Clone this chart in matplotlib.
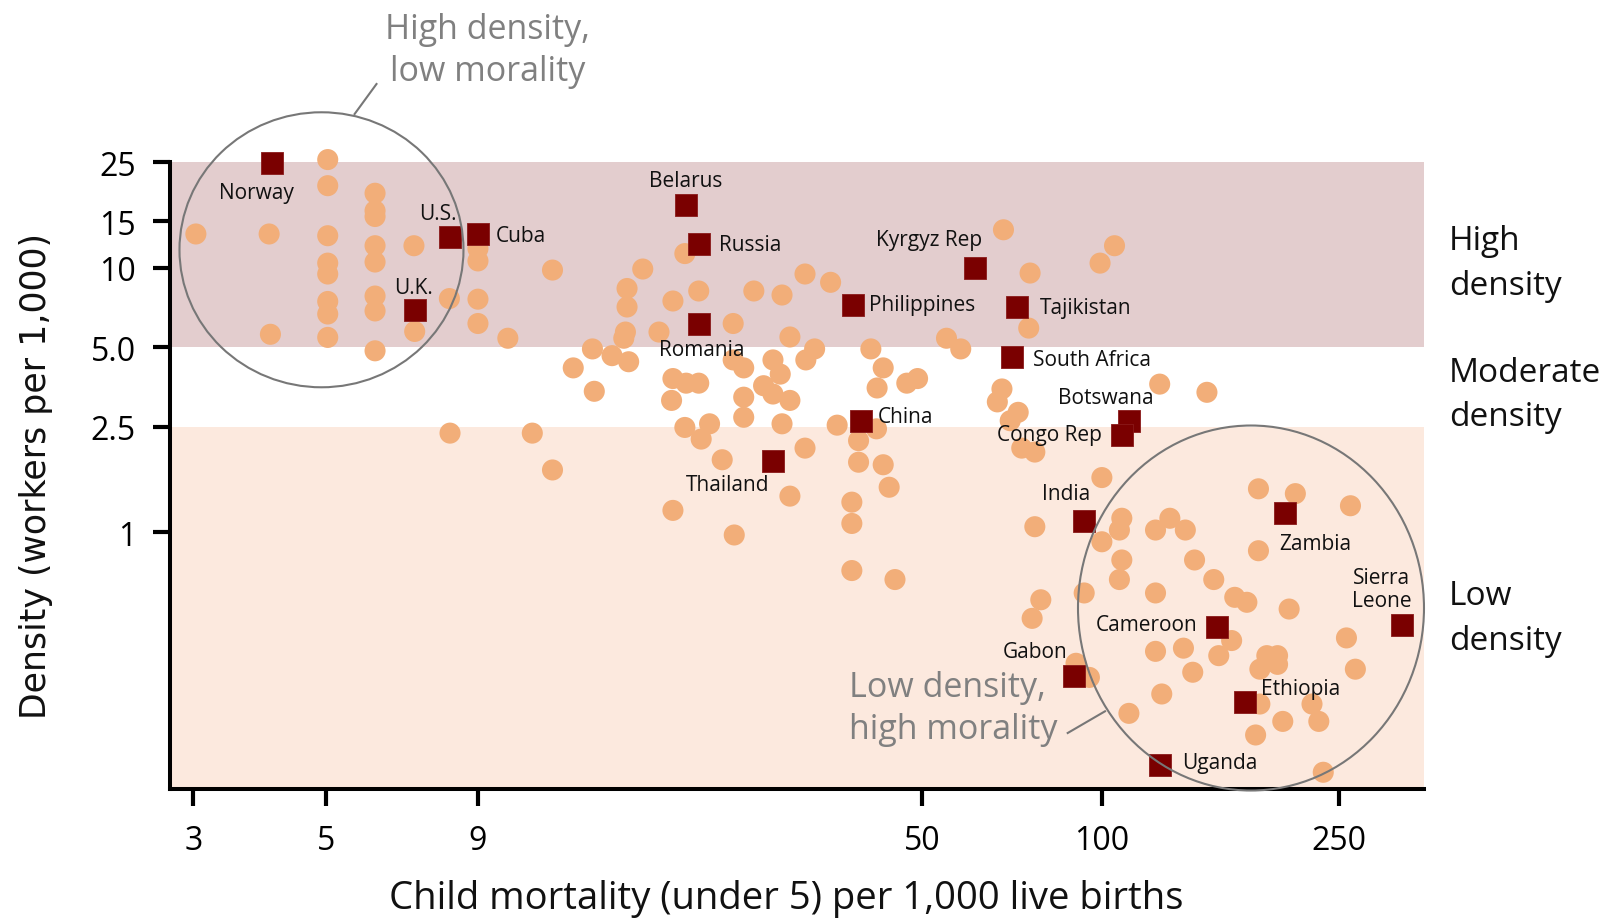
import matplotlib
matplotlib.use("Agg")
import matplotlib.pyplot as plt
from matplotlib.patches import Ellipse
from matplotlib.lines import Line2D
from matplotlib.ticker import FixedLocator, FixedFormatter, NullLocator

# ---------------- data ----------------
# other countries: (child mortality per 1,000, density workers per 1,000)
other_mortality = [
    3.03, 4.02, 4.04,
    5.04, 5.04, 5.04, 5.04, 5.04, 5.04, 5.04, 5.04,
    6.05, 6.05, 6.05, 6.05, 6.05, 6.05, 6.05, 6.05,
    7.03, 7.05, 8.06, 8.08,
    9.0, 9.0, 9.0, 9.0,
    10.1, 11.1, 12.0, 12.0, 13.0, 14.0, 14.1, 15.1,
    16.0, 16.0, 15.9, 15.8, 16.1, 17.0, 18.1,
    19.1, 19.1, 19.0, 19.1, 20.0, 20.1, 20.0,
    21.1, 21.1, 21.3, 22.0, 23.1,
    24.1, 24.1, 24.2, 25.1, 25.1, 25.1,
    26.1, 27.1, 28.1, 28.1, 28.9, 29.1, 29.1,
    30.0, 30.0, 30.0, 31.8, 31.9, 31.8, 33.0,
    35.1, 36.0, 38.1, 38.1, 38.1, 39.1, 39.1,
    41.0, 41.9, 42.0, 43.0, 43.0, 44.0, 45.0,
    47.1, 49.1, 54.9, 58.0,
    68.4, 68.0, 66.8, 72.4, 70.2, 75.8, 75.4,
    73.4, 77.2, 77.2, 79.0, 76.4,
    90.5, 95.3, 93.4, 99.3, 100, 100, 105,
    108, 107, 108, 107, 111, 125, 150,
    123, 130, 138, 143, 154, 167, 175, 123,
    183, 211, 261, 183, 206, 257, 266,
    165, 123, 137, 157, 142, 189, 197, 197, 184,
    126, 184, 225, 201, 231, 181, 235,
]
other_density = [
    13.4, 13.4, 5.6,
    25.6, 20.4, 13.2, 10.4, 9.46, 7.45, 6.68, 5.45,
    19.1, 16.4, 15.6, 12.1, 10.5, 7.81, 6.86, 4.85,
    12.1, 5.74, 7.64, 2.37,
    11.8, 10.6, 7.6, 6.15,
    5.41, 2.37, 9.79, 1.72, 4.18, 4.93, 3.41, 4.65,
    8.34, 7.1, 5.71, 5.41, 4.41, 9.88, 5.71,
    7.48, 3.81, 3.15, 1.21, 11.3, 3.66, 2.49,
    8.16, 3.66, 2.25, 2.57, 1.88,
    6.15, 4.48, 0.977, 4.18, 3.24, 2.72,
    8.16, 3.58, 4.48, 3.33, 3.96, 7.88, 2.57,
    5.47, 3.15, 1.37, 9.46, 4.48, 2.08, 4.93,
    8.8, 2.54, 1.30, 1.08, 0.717, 2.22, 1.84,
    4.93, 2.46, 3.51, 4.18, 1.80, 1.48, 0.663,
    3.66, 3.81, 5.41, 4.93,
    13.9, 3.48, 3.11, 2.84, 2.64, 9.54, 5.91,
    2.08, 2.01, 1.05, 0.556, 0.473,
    0.320, 0.283, 0.590, 10.4, 1.61, 0.921, 12.1,
    1.13, 1.02, 0.786, 0.663, 0.207, 3.63, 3.38,
    1.02, 1.13, 1.02, 0.786, 0.663, 0.568, 0.544, 0.590,
    1.46, 1.40, 1.26, 0.852, 0.513, 0.399, 0.304,
    0.390, 0.355, 0.365, 0.342, 0.296, 0.342, 0.342, 0.317, 0.304,
    0.245, 0.2245, 0.2245, 0.193, 0.193, 0.1715, 0.124,
]

# highlighted countries
country_names = ["Norway", "U.S.", "U.K.", "Cuba", "Belarus", "Russia", "Romania",
                 "Thailand", "Kyrgyz Rep", "Philippines", "Tajikistan", "South Africa",
                 "China", "Botswana", "Congo Rep", "India", "Zambia", "Sierra\nLeone",
                 "Cameroon", "Gabon", "Ethiopia", "Uganda"]
country_mortality = [4.06, 8.08, 7.05, 9.01, 20.1, 21.1, 21.1,
                     28.1, 61.3, 38.2, 72.0, 70.8,
                     39.4, 111, 108, 93.3, 203, 318,
                     156, 89.8, 174, 125]
country_density = [24.8, 13.1, 6.93, 13.4, 17.2, 12.3, 6.15,
                    1.86, 9.97, 7.24, 7.08, 4.58,
                    2.63, 2.64, 2.34, 1.10, 1.18, 0.447,
                    0.438, 0.286, 0.228, 0.132]

x_ticks = [3, 5, 9, 50, 100, 250]
x_tick_labels = ["3", "5", "9", "50", "100", "250"]
y_ticks = [1, 2.5, 5, 10, 15, 25]
y_tick_labels = ["1", "2.5", "5.0", "10", "15", "25"]

band_labels = ["High\ndensity", "Moderate\ndensity", "Low\ndensity"]

# ---------------- label placement (offset points, ha) ----------------
label_offsets = {
    "Norway": (-11.3, -20.9, "center"),
    "U.S.": (-8.4, 16.8, "center"),
    "U.K.": (-0.7, 16.1, "center"),
    "Cuba": (12.7, -1.2, "left"),
    "Belarus": (0, 18.2, "center"),
    "Russia": (14.6, -0.5, "left"),
    "Romania": (1.9, -19.0, "center"),
    "Thailand": (-32.4, -16.8, "center"),
    "Kyrgyz Rep": (-33.1, 20.4, "center"),
    "Philippines": (11.7, 0, "left"),
    "Tajikistan": (16.3, 0, "left"),
    "South Africa": (14.7, -1.2, "left"),
    "China": (12.7, 3.6, "left"),
    "Botswana": (-16.6, 16.8, "center"),
    "Congo Rep": (-14.1, 0, "right"),
    "India": (-12.5, 19.7, "center"),
    "Zambia": (21.8, -21.4, "center"),
    "Sierra\nLeone": (-14.6, 25.9, "center"),
    "Cameroon": (-14.0, 1.9, "right"),
    "Gabon": (-28.1, 17.7, "center"),
    "Ethiopia": (39.6, 9.6, "center"),
    "Uganda": (16.3, 1.7, "left"),
}

W, H = 1610, 920
FONT = "Open Sans"
DOT = "#f2ae79"
SQ = "#7a0000"
GRAY = "#808080"
TXT = "#111111"

fig = plt.figure(figsize=(W / 100, H / 100), dpi=100)
ax = fig.add_axes([170 / W, 1 - 790 / H, 1253.5 / W, 626.7 / H])
ax.set_xscale("log")
ax.set_yscale("log")
ax.set_xlim(2.742, 346)
ax.set_ylim(0.1072, 25)

ax.axhspan(5, 25, color="#e3cdce", zorder=0, lw=0)
ax.axhspan(0.1072, 2.5, color="#fce9de", zorder=0, lw=0)

ax.scatter(other_mortality, other_density, s=230, color=DOT, edgecolors="none",
           zorder=3, clip_on=False)
ax.scatter(country_mortality, country_density, s=235, marker="s", color=SQ,
           edgecolors="#8a1a1a", linewidths=0.6, zorder=4, clip_on=False)

for name, xv, yv in zip(country_names, country_mortality, country_density):
    dx, dy, ha = label_offsets[name]
    ax.annotate(name, xy=(xv, yv), xytext=(dx, dy), textcoords="offset points",
                ha=ha, va="center", fontsize=15, family=FONT, color=TXT,
                linespacing=1.1, zorder=6)

# axes styling
for side in ["top", "right"]:
    ax.spines[side].set_visible(False)
for side in ["left", "bottom"]:
    ax.spines[side].set_linewidth(2.9)
    ax.spines[side].set_capstyle("projecting")
ax.xaxis.set_major_locator(FixedLocator(x_ticks))
ax.xaxis.set_major_formatter(FixedFormatter(x_tick_labels))
ax.yaxis.set_major_locator(FixedLocator(y_ticks))
ax.yaxis.set_major_formatter(FixedFormatter(y_tick_labels))
ax.xaxis.set_minor_locator(NullLocator())
ax.yaxis.set_minor_locator(NullLocator())
ax.tick_params(axis="both", which="major", length=12.5, width=3, direction="out",
               labelsize=23, colors="black")
ax.tick_params(axis="y", pad=12)
ax.tick_params(axis="x", pad=13)
for lab in ax.get_xticklabels() + ax.get_yticklabels():
    lab.set_family(FONT)

# axis titles
fig.text(786.5 / W, 1 - 899.5 / H, "Child mortality (under 5) per 1,000 live births",
         ha="center", va="center", fontsize=27.5, family=FONT, color=TXT)
fig.text(36 / W, 1 - 476 / H, "Density (workers per 1,000)", rotation=90,
         ha="center", va="center", fontsize=25, family="DejaVu Sans", color=TXT)

# band labels on right
for lab, yc in zip(band_labels, [264, 395.5, 619]):
    fig.text(1449 / W, 1 - yc / H, lab, ha="left", va="center", fontsize=24,
             family=FONT, color=TXT, linespacing=1.45)

# circled groups
bbox = ax.get_window_extent()


def add_ellipse(xc, yc, w_px, h_px):
    fx, fy = ax.transAxes.inverted().transform(ax.transData.transform((xc, yc)))
    e = Ellipse((fx, fy), w_px / bbox.width, h_px / bbox.height, transform=ax.transAxes,
                fill=False, ec="#777777", lw=1.5, clip_on=False, zorder=5)
    ax.add_patch(e)


add_ellipse(4.92, 11.68, 284, 275)
add_ellipse(177.8, 0.5176, 346, 365)

for (x1, y1), (x2, y2) in [((354.6, 115), (376.5, 85)), ((1067.7, 734), (1105, 712.3))]:
    fig.add_artist(Line2D([x1 / W, x2 / W], [1 - y1 / H, 1 - y2 / H],
                          transform=fig.transFigure, color="#777777", lw=1.5))

fig.text(487.7 / W, 1 - 51 / H, "High density,\nlow morality", ha="center", va="center",
         fontsize=24.5, family=FONT, color=GRAY, linespacing=1.32)
fig.text(849.3 / W, 1 - 709 / H, "Low density,\nhigh morality", ha="left", va="center",
         fontsize=24.5, family=FONT, color=GRAY, linespacing=1.32)

fig.savefig("out.png", dpi=100)
